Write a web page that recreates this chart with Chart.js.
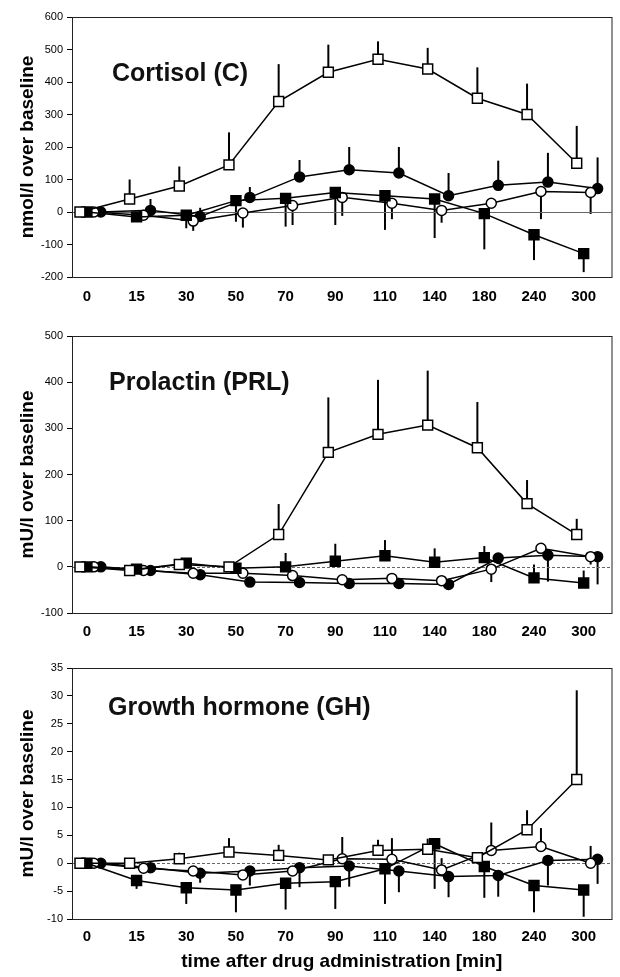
<!DOCTYPE html>
<html>
<head>
<meta charset="utf-8">
<script src="https://cdn.jsdelivr.net/npm/chart.js@4.4.1/dist/chart.umd.min.js"></script>
<style>
  body { margin: 0; background: #fff; }
  .panel { position: absolute; left: 0; width: 620px; }
</style>
</head>
<body>
<div class="panel" style="top:0"><canvas id="cortChart" width="620" height="310"></canvas></div>
<div class="panel" style="top:310px"><canvas id="prlChart" width="620" height="330"></canvas></div>
<div class="panel" style="top:640px"><canvas id="ghChart" width="620" height="337"></canvas></div>
<script>
// time points (min)
const xLabels = ['0', '15', '30', '50', '70', '90', '110', '140', '180', '240', '300'];

// Cortisol, nmol/l over baseline
const cortOpenSq = [0, 40, 80, 145, 340, 430, 470, 440, 350, 300, 150];
const cortOpenSqErr = [null, 100, 140, 245, 455, 515, 525, 505, 445, 395, 265];
const cortFillSq = [0, -15, -10, 35, 42, 60, 50, 40, -5, -70, -128];
const cortFillSqErr = [null, null, -50, -30, -45, -40, -55, -80, -115, -148, -185];
const cortOpenCi = [0, -10, -28, -3, 20, 45, 27, 5, 27, 63, 60];
const cortOpenCiErr = [null, null, -58, -48, -40, -12, -22, -33, null, -22, -6];
const cortFillCi = [0, 5, -14, 45, 108, 130, 120, 50, 82, 92, 72];
const cortFillCiErr = [null, 40, 13, 77, 160, 200, 200, 120, 158, 182, 168];

// Prolactin, mU/l over baseline
const prlOpenSq = [0, -8, 5, 0, 70, 248, 287, 307, 258, 137, 70];
const prlOpenSqErr = [null, null, null, null, 136, 367, 405, 425, 357, 188, 104];
const prlFillSq = [0, -5, 8, -3, 0, 12, 24, 10, 20, -24, -35];
const prlFillSqErr = [null, null, null, null, 30, 50, 58, 40, 45, 5, -8];
const prlOpenCi = [0, -8, -14, -14, -19, -28, -25, -30, -5, 40, 22];
const prlOpenCiErr = [null, null, -22, null, -28, -38, -35, -40, -33, null, 5];
const prlFillCi = [0, -8, -17, -33, -34, -36, -36, -38, 19, 25, 22];
const prlFillCiErr = [null, null, null, null, null, -45, -45, -48, null, -32, -38];

// Growth hormone, mU/l over baseline
const ghOpenSq = [0, 0, 0.8, 2.0, 1.4, 0.6, 2.3, 2.5, 1.0, 6.0, 15.0];
const ghOpenSqErr = [null, null, 1.9, 4.5, 3.3, null, 4.2, 4.4, null, 9.5, 31];
const ghFillSq = [0, -3.1, -4.4, -4.8, -3.6, -3.3, -1.0, 3.5, -0.6, -4.0, -4.8];
const ghFillSqErr = [null, -4.6, -7.3, -8.8, -8.3, -8.2, -7.3, -4.6, -6.2, -8.8, -9.6];
const ghOpenCi = [0, -0.9, -1.4, -2.1, -1.4, 0.8, 0.7, -1.2, 2.3, 3.0, 0];
const ghOpenCiErr = [null, null, null, null, null, 4.7, 4.5, 0.9, 7.3, 6.3, 3.1];
const ghFillCi = [0, -0.8, -1.8, -1.4, -0.8, -0.5, -1.4, -2.4, -2.2, 0.5, 0.7];
const ghFillCiErr = [null, null, -3.5, -4.0, -4.3, -4.2, -5.2, -6.1, -6.0, -4.0, -3.7];

// each group is drawn a little to the right of the previous one
const xShift = [-0.14, 0, 0.14, 0.28];
const FONT = 'Liberation Sans, Arial, sans-serif';

const styles = [
  { pointStyle: 'rect', radius: 7, fill: '#fff' },
  { pointStyle: 'rect', radius: 7, fill: '#000' },
  { pointStyle: 'circle', radius: 5, fill: '#fff' },
  { pointStyle: 'circle', radius: 5, fill: '#000' }
];

const errorBars = {
  id: 'errorBars',
  beforeDatasetsDraw(chart, args, opts) {
    const { ctx, scales: { x, y } } = chart;
    ctx.save();
    ctx.strokeStyle = '#000';
    ctx.lineWidth = 2;
    opts.ends.forEach((ends, d) => {
      const vals = opts.values[d];
      ends.forEach((e, k) => {
        if (e === null) return;
        const px = x.getPixelForValue(k + xShift[d]);
        ctx.beginPath();
        ctx.moveTo(px, y.getPixelForValue(vals[k]));
        ctx.lineTo(px, y.getPixelForValue(e));
        ctx.stroke();
      });
    });
    ctx.restore();
  }
};

const frame = {
  id: 'frame',
  beforeDatasetsDraw(chart, args, opts) {
    const { ctx, chartArea: a, scales: { y } } = chart;
    ctx.save();
    // zero line
    ctx.strokeStyle = '#666';
    ctx.lineWidth = 1;
    ctx.setLineDash(opts.dash || []);
    const y0 = Math.round(y.getPixelForValue(0)) + 0.5;
    ctx.beginPath();
    ctx.moveTo(a.left, y0);
    ctx.lineTo(a.right, y0);
    ctx.stroke();
    ctx.setLineDash([]);
    ctx.strokeStyle = '#222';
    ctx.strokeRect(a.left + 0.5, a.top + 0.5, a.right - a.left, a.bottom - a.top);
    // panel title
    ctx.fillStyle = '#111';
    ctx.font = 'bold 25px ' + FONT;
    ctx.textBaseline = 'middle';
    ctx.fillText(opts.title, a.left + opts.tx, a.top + opts.ty);
    ctx.restore();
  }
};

function makePanel(id, p) {
  const datasets = p.values.map((vals, d) => ({
    data: vals.map((v, k) => ({ x: k + xShift[d], y: v })),
    showLine: true,
    borderColor: '#000',
    borderWidth: 1.5,
    pointStyle: styles[d].pointStyle,
    pointRadius: styles[d].radius,
    pointBackgroundColor: styles[d].fill,
    pointBorderColor: '#000',
    pointBorderWidth: 1.5
  }));

  return new Chart(document.getElementById(id), {
    type: 'scatter',
    data: { datasets: datasets },
    plugins: [errorBars, frame],
    options: {
      responsive: false,
      animation: false,
      devicePixelRatio: 1,
      layout: { padding: { top: p.top, right: 7, left: 0, bottom: 0 } },
      plugins: {
        legend: { display: false },
        tooltip: { enabled: false },
        errorBars: { values: p.values, ends: p.ends },
        frame: { title: p.title, tx: p.tx, ty: p.ty, dash: p.dash }
      },
      scales: {
        x: {
          type: 'linear',
          min: -0.3,
          max: 10.56,
          afterBuildTicks: axis => { axis.ticks = xLabels.map((_, i) => ({ value: i })); },
          afterFit: axis => { axis.height = p.xHeight; },
          ticks: {
            autoSkip: false,
            maxRotation: 0,
            padding: p.xPad,
            color: '#000',
            font: { family: FONT, size: 15, weight: 'bold' },
            callback: v => xLabels[v]
          },
          grid: { display: false },
          border: { display: false },
          title: {
            display: !!p.xTitle,
            text: p.xTitle || '',
            color: '#000',
            font: { family: FONT, size: 19, weight: 'bold' },
            padding: { top: 0, bottom: 4 }
          }
        },
        y: {
          min: p.yMin,
          max: p.yMax,
          afterFit: axis => { axis.width = 72; },
          ticks: {
            stepSize: p.step,
            padding: 4,
            color: '#000',
            font: { family: FONT, size: 11 }
          },
          grid: { drawOnChartArea: false, tickLength: 5, color: '#000' },
          border: { display: false },
          title: {
            display: true,
            text: p.yTitle,
            color: '#000',
            font: { family: FONT, size: 19, weight: 'bold' },
            padding: { top: 16, bottom: 0 }
          }
        }
      }
    }
  });
}

makePanel('cortChart', {
  values: [cortOpenSq, cortFillSq, cortOpenCi, cortFillCi],
  ends: [cortOpenSqErr, cortFillSqErr, cortOpenCiErr, cortFillCiErr],
  yMin: -200, yMax: 600, step: 100,
  yTitle: 'nmol/l over baseline',
  title: 'Cortisol (C)', tx: 40, ty: 57,
  top: 17, xHeight: 33, xPad: 3
});

makePanel('prlChart', {
  values: [prlOpenSq, prlFillSq, prlOpenCi, prlFillCi],
  ends: [prlOpenSqErr, prlFillSqErr, prlOpenCiErr, prlFillCiErr],
  yMin: -100, yMax: 500, step: 100,
  yTitle: 'mU/l over baseline',
  title: 'Prolactin (PRL)', tx: 37, ty: 47,
  top: 26, xHeight: 27, xPad: 2, dash: [3, 2]
});

makePanel('ghChart', {
  values: [ghOpenSq, ghFillSq, ghOpenCi, ghFillCi],
  ends: [ghOpenSqErr, ghFillSqErr, ghOpenCiErr, ghFillCiErr],
  yMin: -10, yMax: 35, step: 5,
  yTitle: 'mU/l over baseline',
  xTitle: 'time after drug administration [min]',
  title: 'Growth hormone (GH)', tx: 36, ty: 40,
  top: 28, xHeight: 58, xPad: 1, dash: [3, 2]
});
</script>
</body>
</html>
